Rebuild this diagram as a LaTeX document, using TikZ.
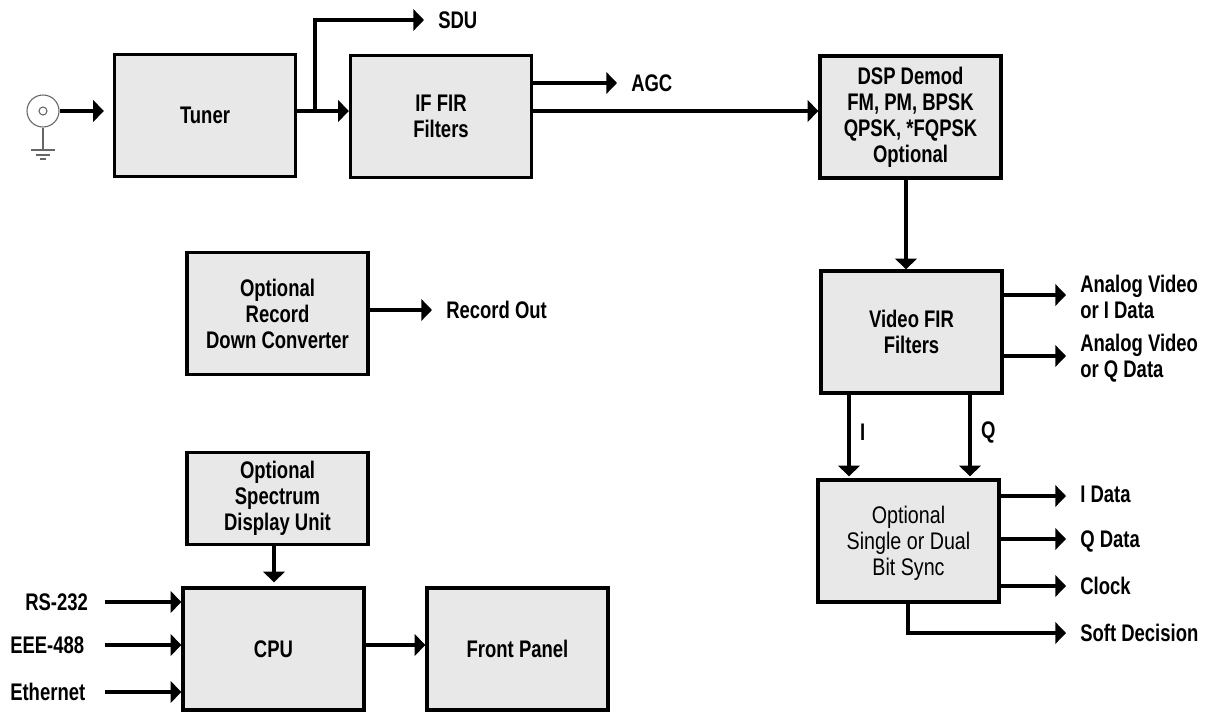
\documentclass[tikz,border=0pt]{standalone}
\usepackage{fontspec}
\usetikzlibrary{arrows.meta}
\newfontfamily\lblfont[FakeStretch=0.77,UprightFont={* Bold}]{Liberation Sans}
\newfontfamily\thinfont[FakeStretch=0.82]{Liberation Sans}
\tikzset{
	block/.style={draw, line width=2.5pt, fill=black!9, minimum width=135.75pt, minimum height=91.5pt, align=center, font=\lblfont\fontsize{18}{19.5}\selectfont},
	sig/.style={line width=2.5pt, -{Triangle[length=8pt,width=16pt]}},
	outlabel/.style={anchor=west, align=left, inner xsep=10.5pt, inner ysep=0pt, font=\lblfont\fontsize{18}{19.5}\selectfont},
	inlabel/.style={anchor=west, inner xsep=0pt, inner ysep=0pt, font=\lblfont\fontsize{18}{19.5}\selectfont},
	thin gray/.style={line width=0.8pt, draw=black!60}
}
\begin{document}
\begin{tikzpicture}[x=0.75pt, y=-0.75pt]
	\useasboundingbox (0,0) rectangle (1209,713);
	\clip (10,0) rectangle (1198,713);

	% blocks
	\node [block] (tuner) at (205,115.5) {Tuner};
	\node [block] (iffir) at (441,116.5) {IF FIR\\Filters};
	\node [block] (dsp) at (910.5,117) {DSP Demod\\FM, PM, BPSK\\QPSK, *FQPSK\\Optional};
	\node [block] (video) at (911.5,332) {Video FIR\\Filters};
	\node [block, font=\thinfont\fontsize{18}{19.5}\selectfont] (bitsync) at (908.5,541) {\rule{0pt}{16pt}Optional\\Single or Dual\\Bit Sync};
	\node [block] (record) at (277.5,313.5) {Optional\\Record\\Down Converter};
	\node [block, minimum height=69pt] (spectrum) at (277.5,498.5) {Optional\\Spectrum\\Display Unit};
	\node [block] (cpu) at (273.5,649) {CPU};
	\node [block] (front) at (517.5,649) {Front Panel};

	% antenna
	\node [circle, thin gray, minimum size=24pt, inner sep=0pt] (ant) at (43,111) {};
	\node [circle, thin gray, minimum size=6pt, inner sep=0pt] (antcore) at (ant.center) {};
	\coordinate (gnd) at (43,150);
	\draw [thin gray] (ant.south) -- (gnd);
	\draw [thin gray] (31,150) -- (55,150);
	\draw [thin gray] (36,155) -- (50,155);
	\draw [thin gray] (40,159) -- (46,159);
	\draw [sig, shorten >=6.75pt] (ant.east) -- (tuner.west |- ant);

	% top row
	\coordinate (tap) at (315,111);
	\coordinate (dspout) at (906,0);
	\node [outlabel] (sdu) at (424,20) {SDU};
	\node [outlabel] (agc) at (617,83) {AGC};
	\draw [sig] (tuner.east |- ant) -- (iffir.west |- ant);
	\draw [sig] (tap) |- (sdu.west);
	\draw [sig] (iffir.east |- agc) -- (agc.west);
	\draw [sig] (iffir.east |- tap) -- (dsp.west |- tap);
	\draw [sig] (dsp.south -| dspout) -- (video.north -| dspout);

	% record out
	\node [outlabel] (recout) at (432,310) {Record Out};
	\draw [sig] (record.east |- recout) -- (recout.west);

	% video outputs
	\node [outlabel] (vidi) at (1066,297) {Analog Video\\or I Data};
	\node [outlabel] (vidq) at (1066,358) {Analog Video\\or Q Data};
	\coordinate (vidiend) at (1066,295);
	\coordinate (vidqend) at (1066,356);
	\draw [sig] (video.east |- vidiend) -- (vidiend);
	\draw [sig] (video.east |- vidqend) -- (vidqend);

	% I and Q paths
	\coordinate (ipath) at (849,0);
	\coordinate (qpath) at (970,0);
	\draw [sig, shorten >=1.5pt] (video.south -| ipath) -- node [right=7pt, inlabel, anchor=west, pos=0.45] (ilabel) {I} (bitsync.north -| ipath);
	\draw [sig, shorten >=1.5pt] (video.south -| qpath) -- node [right=7pt, inlabel, anchor=west, pos=0.45] (qlabel) {Q} (bitsync.north -| qpath);

	% bit sync outputs
	\foreach \y/\ty/\name/\txt in {496/494/idata/I Data, 539/541/qdata/Q Data, 586/586/clock/Clock} {
		\node [outlabel] (\name) at (1066,\ty) {\txt};
		\coordinate (\name end) at (1066,\y);
		\draw [sig] (bitsync.east |- \name end) -- (\name end);
	}
	\coordinate (softpath) at (908,0);
	\node [outlabel] (soft) at (1066,633) {Soft Decision};
	\draw [sig] (bitsync.south -| softpath) |- (soft.west);

	% cpu side
	\coordinate (busin) at (105,0);
	\coordinate (specout) at (274,0);
	\coordinate (frontin) at (0,645);
	\node [inlabel] (rs) at (25,602) {RS-232};
	\node [inlabel] (ieee) at (10,645) {EEE-488};
	\node [inlabel] (eth) at (10,692) {Ethernet};
	\foreach \name in {rs,ieee,eth} {
		\draw [sig] (busin |- \name) -- (cpu.west |- \name);
	}
	\draw [sig, shorten >=3pt] (spectrum.south -| specout) -- (cpu.north -| specout);
	\draw [sig] (cpu.east |- frontin) -- (front.west |- frontin);
\end{tikzpicture}
\end{document}
